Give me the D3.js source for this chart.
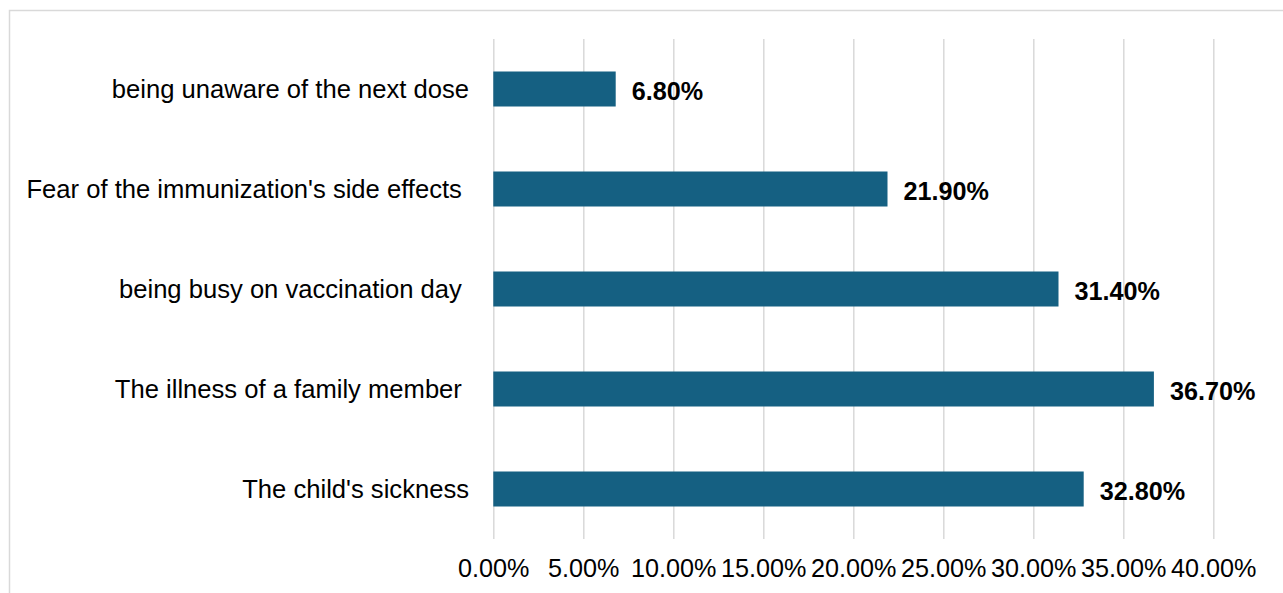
<!DOCTYPE html>
<html>
<head>
<meta charset="utf-8">
<script src="https://cdn.jsdelivr.net/npm/d3@7"></script>
<style>
  html, body { margin: 0; padding: 0; background: #fff; }
  svg { display: block; font-family: "Liberation Sans", Arial, sans-serif; }
  text { white-space: pre; }
</style>
</head>
<body>
<svg id="chart" width="1283" height="593"></svg>
<script>
const categories = [
  "being unaware of the next dose",
  "Fear of the immunization's side effects ",
  "being busy on vaccination day ",
  "The illness of a family member ",
  "The child's sickness"
];
const values = [0.068, 0.219, 0.314, 0.367, 0.328];
const tickValues = [0, 0.05, 0.10, 0.15, 0.20, 0.25, 0.30, 0.35, 0.40];

const svg = d3.select("#chart");

// chart border
svg.append("rect")
  .attr("x", 9.5).attr("y", 10.5)
  .attr("width", 1300).attr("height", 620)
  .attr("fill", "none").attr("stroke", "#d9d9d9").attr("stroke-width", 1.5);

const x = d3.scaleLinear().domain([0, 0.40]).range([493.3, 1213.3]);
const y = d3.scaleBand().domain(categories).range([39, 539])
  .paddingInner(0.65).paddingOuter(0.325);

// gridlines
svg.append("g")
  .attr("transform", "translate(0,539)")
  .call(d3.axisBottom(x).tickValues(tickValues).tickSize(-500).tickFormat(""))
  .call(g => g.select(".domain").remove())
  .call(g => g.selectAll(".tick line").attr("stroke", "#d9d9d9").attr("stroke-width", 1.5));

// tick labels
svg.append("g")
  .attr("transform", "translate(0,539)")
  .call(d3.axisBottom(x).tickValues(tickValues).tickSize(0).tickPadding(0).tickFormat(d3.format(".2%")))
  .call(g => g.select(".domain").remove())
  .call(g => g.selectAll(".tick text")
    .attr("y", 38).attr("dy", null)
    .attr("fill", "#000")
    .style("font-size", "25.2px"));

// bars
svg.append("g").selectAll("rect")
  .data(values)
  .join("rect")
  .attr("x", x(0))
  .attr("y", (d, i) => y(categories[i]))
  .attr("width", d => x(d) - x(0))
  .attr("height", y.bandwidth())
  .attr("fill", "#156082");

// value labels
svg.append("g").selectAll("text")
  .data(values)
  .join("text")
  .attr("x", d => x(d) + 16)
  .attr("y", (d, i) => y(categories[i]) + y.bandwidth() / 2)
  .attr("dy", "0.42em")
  .attr("font-weight", "bold")
  .style("font-size", "25.2px")
  .attr("fill", "#000")
  .text(d => d3.format(".2%")(d));

// category labels
svg.append("g").selectAll("text")
  .data(categories)
  .join("text")
  .attr("x", 469)
  .attr("y", d => y(d) + y.bandwidth() / 2)
  .attr("dy", "0.37em")
  .attr("text-anchor", "end")
  .style("font-size", "25.6px")
  .attr("fill", "#000")
  .text(d => d);
</script>
</body>
</html>
